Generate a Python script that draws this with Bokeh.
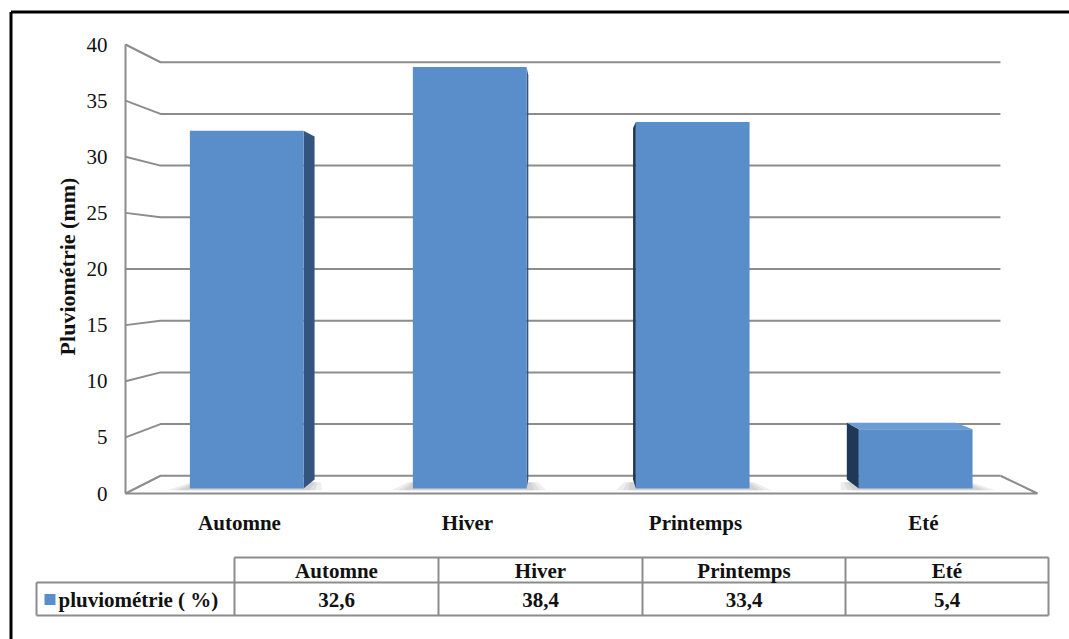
import math

from bokeh.core.properties import value
from bokeh.embed import file_html
from bokeh.models import Range1d
from bokeh.plotting import figure
from bokeh.resources import INLINE

# ---- data -------------------------------------------------------------
seasons = ["Automne", "Hiver", "Printemps", "Eté"]
rainfall = [32.6, 38.4, 33.4, 5.4]
y_ticks = [0, 5, 10, 15, 20, 25, 30, 35, 40]
y_title = "Pluviométrie (mm)"
series_name = "pluviométrie ( %)"
rainfall_labels = [f"{v:.1f}".replace(".", ",") for v in rainfall]

# ---- layout / style constants -----------------------------------------
W, H = 1069, 639
ORIGIN_X, ORIGIN_Y = 125, 493        # pixel position of (first category edge, 0 mm)
CAT_PX = 228                          # pixels per category on the front plane
VAL_PX = 11.225                       # pixels per mm on the front plane
Y_MAX = max(y_ticks)
N = len(seasons)

SERIF = value("Liberation Serif, Times New Roman, DejaVu Serif, serif")
INK = "#111111"
GRID = "#8c8c8c"
FRONT = "#5a8ecb"
SIDE_R = "#33547f"
SIDE_L = "#1f3858"
TOP = "#6a9dd6"

# one-point perspective: eye level at 20 mm
VP_X, VP_Y = (568 - ORIGIN_X) / CAT_PX, 20.0
S_WALL = 0.921       # back wall depth scale
S_BAR_F = 0.978      # column front face depth scale
S_BAR_B = 0.9375     # column back face depth scale
BAR_W = 0.51         # column width in category units


def proj(x, y, s):
    return VP_X + (x - VP_X) * s, VP_Y + (y - VP_Y) * s


def px(xp, yp):
    """Page pixel position -> data coordinates."""
    return (xp - ORIGIN_X) / CAT_PX, (ORIGIN_Y - yp) / VAL_PX


def pxs(xps, yps):
    pts = [px(a, b) for a, b in zip(xps, yps)]
    return [q[0] for q in pts], [q[1] for q in pts]


x0, y_top = px(0, 0)
x1, y_bot = px(W, H)
p = figure(width=W, height=H, output_backend="svg", toolbar_location=None,
           x_range=Range1d(x0, x1), y_range=Range1d(y_bot, y_top), min_border=0)
p.axis.visible = False
p.grid.visible = False
p.outline_line_color = None
p.background_fill_color = "white"
p.border_fill_color = "white"

# ---- walls and gridlines ----------------------------------------------
xs, ys = [], []
for v in y_ticks:
    bx0, by = proj(0, v, S_WALL)
    bx1, _ = proj(N, v, S_WALL)
    xs.append([0, bx0, bx1])
    ys.append([v, by, by])
fx, fy = proj(N, 0, S_WALL)
xs += [[0, N, fx], [0, 0]]
ys += [[0, 0, fy], [0, Y_MAX]]
p.multi_line(xs, ys, line_color=GRID, line_width=2)

# ---- soft floor shadows beside each column base -------------------------
sh_x, sh_y = [], []
for i in range(N):
    c = i + 0.5
    for grow in (0.09, 0.06, 0.035):
        pts = [proj(c - BAR_W / 2 - grow, 0, 0.985), proj(c + BAR_W / 2 + grow, 0, 0.985),
               proj(c + BAR_W / 2 + grow * 0.5, 0, 0.95), proj(c - BAR_W / 2 - grow * 0.5, 0, 0.95)]
        sh_x.append([q[0] for q in pts])
        sh_y.append([q[1] for q in pts])
p.patches(sh_x, sh_y, fill_color="#8a8a8a", fill_alpha=0.14, line_color=None)

# ---- 3-D columns ---------------------------------------------------------
side_x, side_y, side_c = [], [], []
front_x, front_y = [], []
for i, v in enumerate(rainfall):
    c = i + 0.5
    xl, xr = c - BAR_W / 2, c + BAR_W / 2
    fl_b, fr_b = proj(xl, 0, S_BAR_F), proj(xr, 0, S_BAR_F)
    fl_t, fr_t = proj(xl, v, S_BAR_F), proj(xr, v, S_BAR_F)
    bl_b, br_b = proj(xl, 0, S_BAR_B), proj(xr, 0, S_BAR_B)
    bl_t, br_t = proj(xl, v, S_BAR_B), proj(xr, v, S_BAR_B)
    faces = []
    if fr_b[0] < VP_X:
        faces.append(([fr_b, fr_t, br_t, br_b], SIDE_R))
    if fl_b[0] > VP_X:
        faces.append(([fl_b, fl_t, bl_t, bl_b], SIDE_L))
    if v < VP_Y:
        faces.append(([fl_t, fr_t, br_t, bl_t], TOP))
    for quad, col in faces:
        side_x.append([q[0] for q in quad])
        side_y.append([q[1] for q in quad])
        side_c.append(col)
    quad = [fl_b, fr_b, fr_t, fl_t]
    front_x.append([q[0] for q in quad])
    front_y.append([q[1] for q in quad])

p.patches(side_x, side_y, fill_color=side_c, line_color=None)
p.patches(front_x, front_y, fill_color=FRONT, line_color=None)

# ---- axis texts ------------------------------------------------------------
tick_x, _ = px(107, 0)
p.text(x=[tick_x] * len(y_ticks), y=y_ticks, text=[str(t) for t in y_ticks],
       text_align="right", text_baseline="middle", text_font=SERIF,
       text_font_size="21px", text_color=INK)

_, cat_y = px(0, 522)
p.text(x=[i + 0.5 for i in range(N)], y=[cat_y] * N, text=seasons,
       text_align="center", text_baseline="middle", text_font=SERIF,
       text_font_size="21px", text_font_style="bold", text_color=INK)

tx, ty = px(67, 266)
p.text(x=[tx], y=[ty], text=[y_title], angle=math.pi / 2,
       text_align="center", text_baseline="middle", text_font=SERIF,
       text_font_size="22px", text_font_style="bold", text_color=INK)

# ---- data table ------------------------------------------------------------
col_edges = [36, 234, 438, 642, 845, 1048]
row_top, row_mid, row_bot = 557, 582, 615
h_x0 = [col_edges[1], col_edges[0], col_edges[0]]
h_x1 = [col_edges[-1]] * 3
h_y = [row_top, row_mid, row_bot]
v_x = col_edges
v_y0 = [row_mid] + [row_top] * (len(col_edges) - 1)
sx0, sy0 = pxs(h_x0 + v_x, h_y + v_y0)
sx1, sy1 = pxs(h_x1 + v_x, h_y + [row_bot] * len(col_edges))
p.segment(x0=sx0, y0=sy0, x1=sx1, y1=sy1, line_color=GRID, line_width=2)

centers = [(a + b) / 2 for a, b in zip(col_edges[1:-1], col_edges[2:])]
hx, hy = pxs(centers, [570] * N)
p.text(x=hx, y=hy, text=seasons, text_align="center", text_baseline="middle",
       text_font=SERIF, text_font_size="21px", text_font_style="bold", text_color=INK)
dx, dy = pxs(centers, [599] * N)
p.text(x=dx, y=dy, text=rainfall_labels, text_align="center", text_baseline="middle",
       text_font=SERIF, text_font_size="21px", text_font_style="bold", text_color=INK)

kx, ky = px(49.5, 599)
p.rect(x=[kx], y=[ky], width=11 / CAT_PX, height=11 / VAL_PX, fill_color=FRONT, line_color=None)
lx, ly = px(58, 599)
p.text(x=[lx], y=[ly], text=[series_name], text_align="left", text_baseline="middle",
       text_font=SERIF, text_font_size="21px", text_font_style="bold", text_color=INK)

# ---- black frame (top and left edges) -------------------------------------
fx0, fy0 = px(10.5, 11.5)
fx1, fy1 = px(W, H)
p.segment(x0=[fx0, fx0], y0=[fy0, fy0], x1=[fx1, fx0], y1=[fy0, fy1],
          line_color="black", line_width=3)

open("out.html", "w").write(file_html(p, INLINE))
